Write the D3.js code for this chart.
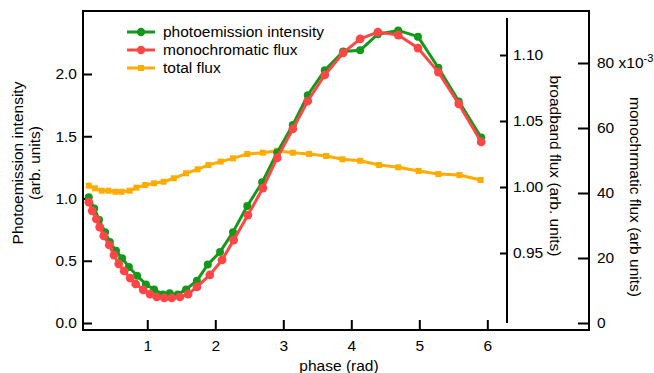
<!DOCTYPE html>
<html>
<head>
<meta charset="utf-8">
<script src="https://cdn.jsdelivr.net/npm/d3@7"></script>
<style>
  body { margin: 0; background: #fff; }
  text { font-family: "Liberation Sans", Arial, sans-serif; }
</style>
</head>
<body>
<svg id="chart" width="654" height="373"></svg>
<script>
// photoemission intensity (left axis)
var pePhase = [0.14,0.22,0.29,0.38,0.45,0.54,0.63,0.73,0.85,0.98,1.10,1.23,1.33,1.45,1.57,1.73,1.89,2.07,2.26,2.47,2.69,2.91,3.14,3.36,3.61,3.88,4.13,4.39,4.69,4.98,5.28,5.58,5.91];
var peValue = [1.01,0.92,0.83,0.73,0.65,0.58,0.52,0.45,0.38,0.31,0.27,0.23,0.24,0.23,0.27,0.34,0.47,0.57,0.73,0.94,1.13,1.37,1.59,1.83,2.03,2.18,2.19,2.32,2.35,2.30,2.05,1.78,1.49];

// monochromatic flux (x10^-3, far right axis)
var monoPhase = [0.14,0.19,0.25,0.30,0.36,0.44,0.51,0.58,0.66,0.75,0.83,0.94,1.04,1.14,1.25,1.36,1.48,1.60,1.73,1.92,2.10,2.27,2.48,2.70,2.91,3.14,3.36,3.61,3.88,4.13,4.39,4.69,4.98,5.28,5.58,5.91];
var monoValue = [37.2,34.5,32.0,29.5,26.8,24.0,20.9,18.2,16.0,13.8,12.0,10.2,8.9,8.0,7.7,7.7,8.0,8.9,11.1,14.8,19.4,25.5,33.2,41.5,50.8,59.7,68.3,76.3,83.1,87.4,89.5,88.6,84.6,77.2,67.4,55.7];

// total flux (broadband axis)
var totPhase = [0.14,0.23,0.33,0.43,0.53,0.62,0.74,0.84,0.97,1.10,1.24,1.39,1.57,1.74,1.90,2.08,2.26,2.47,2.70,2.91,3.14,3.38,3.63,3.87,4.13,4.41,4.69,4.99,5.28,5.59,5.90];
var totValue = [1.0010,0.9990,0.9972,0.9972,0.9964,0.9964,0.9972,0.9995,1.0015,1.0028,1.0040,1.0066,1.0104,1.0134,1.0167,1.0192,1.0217,1.0250,1.0260,1.0275,1.0260,1.0250,1.0235,1.0210,1.0199,1.0167,1.0149,1.0121,1.0098,1.0091,1.0053];

var xTicks = [1, 2, 3, 4, 5, 6];
var leftTicks = [0, 0.5, 1.0, 1.5, 2.0];
var bbTicks = [0.95, 1.00, 1.05, 1.10];
var monoTicks = [0, 20, 40, 60, 80];

var seriesNames = ["photoemission intensity", "monochromatic flux", "total flux"];
var colors = ["#12991a", "#ff4646", "#ffab00"];

var svg = d3.select("#chart");
var fs = "15.5px";
var plotL = 83, plotR = 589, plotT = 11, plotB = 330;

var x = d3.scaleLinear().domain([0.055, 7.495]).range([plotL, plotR]);
var yLeft = d3.scaleLinear().domain([-0.0562, 2.506]).range([plotB, plotT]);
var yMono = d3.scaleLinear().domain([-2.154, 96]).range([plotB, plotT]);
var yBB = d3.scaleLinear().domain([0.95, 1.10]).range([253, 55]);

// frame
svg.append("rect")
  .attr("x", plotL).attr("y", plotT)
  .attr("width", plotR - plotL).attr("height", plotB - plotT)
  .attr("fill", "none").attr("stroke", "#000").attr("stroke-width", 2);

function styleAxis(g) {
  g.select(".domain").remove();
  g.selectAll(".tick line").attr("stroke", "#000").attr("stroke-width", 2);
  g.selectAll(".tick text").attr("fill", "#000").style("font-size", fs)
    .style("font-family", "'Liberation Sans', Arial, sans-serif");
}

svg.append("g")
  .attr("transform", "translate(0," + plotB + ")")
  .call(d3.axisBottom(x).tickValues(xTicks).tickFormat(d3.format("d")).tickSize(-10).tickPadding(10))
  .call(styleAxis);

svg.append("g")
  .attr("transform", "translate(" + plotL + ",0)")
  .call(d3.axisLeft(yLeft).tickValues(leftTicks).tickFormat(d3.format(".1f")).tickSize(-9).tickPadding(6))
  .call(styleAxis);

// broadband axis, inside the plot
var bbX = 507;
svg.append("line")
  .attr("x1", bbX).attr("x2", bbX).attr("y1", 18).attr("y2", 323)
  .attr("stroke", "#000").attr("stroke-width", 2);
svg.append("g")
  .attr("transform", "translate(" + bbX + ",0)")
  .call(d3.axisRight(yBB).tickValues(bbTicks).tickFormat(d3.format(".2f")).tickSize(-7).tickPadding(6))
  .call(styleAxis);

var monoAxis = svg.append("g")
  .attr("transform", "translate(" + plotR + ",0)")
  .call(d3.axisRight(yMono).tickValues(monoTicks).tickFormat(d3.format("d")).tickSize(-11).tickPadding(8))
  .call(styleAxis);
monoAxis.selectAll(".tick text").filter(function (d) { return d === 80; })
  .each(function () {
    var t = d3.select(this);
    t.text("80 x10");
    t.append("tspan").attr("dy", "-0.55em").style("font-size", "11px").text("-3");
  });

// axis titles
svg.append("text")
  .attr("transform", "translate(23,163)rotate(-90)")
  .attr("text-anchor", "middle").style("font-size", fs)
  .text("Photoemission intensity");
svg.append("text")
  .attr("transform", "translate(40,163)rotate(-90)")
  .attr("text-anchor", "middle").style("font-size", fs)
  .text("(arb. units)");
svg.append("text")
  .attr("x", 339).attr("y", 371)
  .attr("text-anchor", "middle").style("font-size", fs)
  .text("phase (rad)");
svg.append("text")
  .attr("transform", "translate(550,166)rotate(90)")
  .attr("text-anchor", "middle").style("font-size", fs)
  .text("broadband flux (arb. units)");
svg.append("text")
  .attr("transform", "translate(630,197)rotate(90)")
  .attr("text-anchor", "middle").style("font-size", fs)
  .text("monochrmatic flux (arb units)");

// series
var line = d3.line().x(function (d) { return d[0]; }).y(function (d) { return d[1]; });

function drawSeries(px, py, color, symbol, size) {
  var pts = px.map(function (p, i) { return [p, py[i]]; });
  svg.append("path")
    .attr("d", line(pts))
    .attr("fill", "none").attr("stroke", color)
    .attr("stroke-width", 3).attr("stroke-linejoin", "round");
  svg.append("g").selectAll("path")
    .data(pts).enter().append("path")
    .attr("transform", function (d) { return "translate(" + d[0] + "," + d[1] + ")"; })
    .attr("d", d3.symbol().type(symbol).size(size))
    .attr("fill", color);
}

drawSeries(totPhase.map(x), totValue.map(yBB), colors[2], d3.symbolSquare, 36);
drawSeries(pePhase.map(x), peValue.map(yLeft), colors[0], d3.symbolCircle, 50);
drawSeries(monoPhase.map(x), monoValue.map(yMono), colors[1], d3.symbolCircle, 60);

// legend
var legend = svg.append("g").attr("transform", "translate(127,32)");
var symbols = [d3.symbolCircle, d3.symbolCircle, d3.symbolSquare];
seriesNames.forEach(function (name, i) {
  var row = legend.append("g").attr("transform", "translate(0," + i * 18 + ")");
  row.append("line").attr("x1", 0).attr("x2", 28).attr("y1", 0).attr("y2", 0)
    .attr("stroke", colors[i]).attr("stroke-width", 3);
  row.append("path").attr("transform", "translate(14,0)")
    .attr("d", d3.symbol().type(symbols[i]).size(i === 2 ? 36 : 55))
    .attr("fill", colors[i]);
  row.append("text").attr("x", 36).attr("y", 5).style("font-size", fs).text(name);
});
</script>
</body>
</html>
